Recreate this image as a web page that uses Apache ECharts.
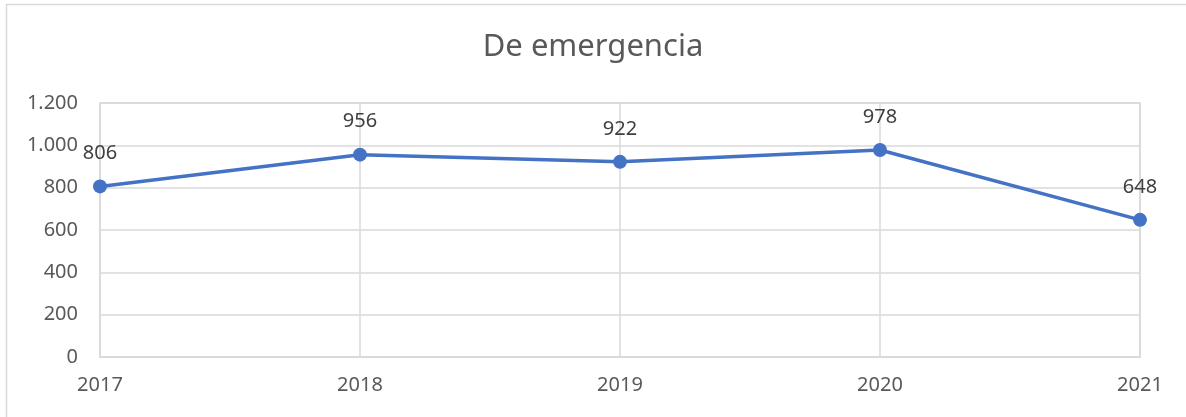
<!DOCTYPE html>
<html>
<head>
<meta charset="utf-8">
<script src="https://cdn.jsdelivr.net/npm/echarts@6/dist/echarts.min.js"></script>
<style>
  html, body { margin: 0; padding: 0; background: #fff; }
  #main { width: 1186px; height: 417px; }
</style>
</head>
<body>
<div id="main"></div>
<script>
var years = ['2017', '2018', '2019', '2020', '2021'];
var values = [806, 956, 922, 978, 648];
var yTicks = [0, 200, 400, 600, 800, 1000, 1200];

// etiquetas con separador de miles al estilo español
function fmt(v) {
    return String(v).replace(/\B(?=(\d{3})+(?!\d))/g, '.');
}

var myChart = echarts.init(document.getElementById('main'));
myChart.setOption({
    animation: false,
    textStyle: { fontFamily: 'Noto Sans' },
    title: {
        text: 'De emergencia',
        left: 'center',
        top: 27,
        textStyle: { color: '#595959', fontSize: 31, fontWeight: 'normal', fontFamily: 'Noto Sans' }
    },
    graphic: [{
        type: 'rect',
        shape: { x: 6.5, y: 4.5, width: 1200, height: 430 },
        style: { fill: 'none', stroke: '#d9d9d9', lineWidth: 1.5 },
        silent: true
    }],
    grid: {
        left: 100, right: 46, top: 103, bottom: 60,
        show: true, borderColor: '#d9d9d9', borderWidth: 1.5
    },
    xAxis: {
        type: 'category',
        data: years,
        boundaryGap: false,
        axisLine: { lineStyle: { color: '#d9d9d9', width: 1.5 } },
        axisTick: { show: false },
        splitLine: { show: true, lineStyle: { color: '#d9d9d9', width: 1.5 } },
        axisLabel: { color: '#595959', fontSize: 20, margin: 18 }
    },
    yAxis: {
        type: 'value',
        min: yTicks[0],
        max: yTicks[yTicks.length - 1],
        interval: 200,
        axisLine: { show: false },
        axisTick: { show: false },
        splitLine: { lineStyle: { color: '#d9d9d9', width: 1.5 } },
        axisLabel: { color: '#595959', fontSize: 20, margin: 22, formatter: fmt }
    },
    series: [{
        type: 'line',
        data: values,
        symbol: 'circle',
        symbolSize: 14,
        lineStyle: { color: '#4472c4', width: 3.5 },
        itemStyle: { color: '#4472c4' },
        label: {
            show: true,
            position: 'top',
            distance: 16,
            color: '#404040',
            fontSize: 20,
            formatter: function (p) { return fmt(p.value); }
        }
    }]
});
</script>
</body>
</html>
